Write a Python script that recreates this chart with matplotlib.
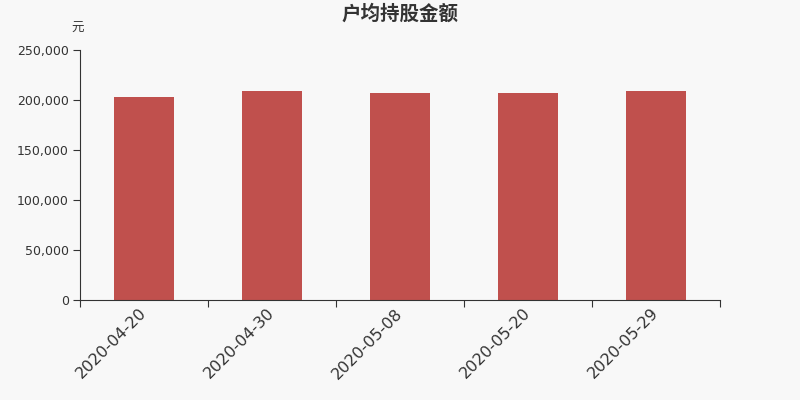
import matplotlib.pyplot as plt
from matplotlib.ticker import FuncFormatter

plt.rcParams['font.family'] = ['DejaVu Sans', 'Noto Sans CJK SC']

# Data
dates = ["2020-04-20", "2020-04-30", "2020-05-08", "2020-05-20", "2020-05-29"]
amounts = [202800, 208700, 207200, 206800, 208900]

bar_color = "#c0504d"
text_color = "#333333"
bg_color = "#f8f8f8"

fig = plt.figure(figsize=(8, 4), dpi=100, facecolor=bg_color)
ax = fig.add_axes([0.1, 0.25, 0.8, 0.625], facecolor=bg_color)

x = list(range(len(dates)))
ax.bar(x, amounts, width=0.47, color=bar_color, zorder=2)

ax.set_xlim(-0.5, len(dates) - 0.5)
ax.set_ylim(0, 250000)
ax.set_yticks([0, 50000, 100000, 150000, 200000, 250000])
ax.yaxis.set_major_formatter(FuncFormatter(lambda v, p: f"{int(v):,}"))

# ticks on category boundaries, labels at centers
ax.set_xticks([i - 0.5 for i in range(len(dates) + 1)])
ax.set_xticklabels([])
ax.set_xticks([i - 0.04 for i in x], minor=True)
ax.set_xticklabels(dates, minor=True, rotation=45, ha="right",
                   rotation_mode="anchor", fontsize=11.5, color=text_color)
ax.tick_params(axis="x", which="minor", length=0, pad=4)
ax.tick_params(axis="x", which="major", length=5, color=text_color)
ax.tick_params(axis="y", length=5, pad=3, labelsize=9, colors=text_color)

for s in ["top", "right"]:
    ax.spines[s].set_visible(False)
ax.spines["left"].set_color(text_color)
ax.spines["bottom"].set_color(text_color)

fig.text(0.5, 0.965, "户均持股金额", ha="center", va="center",
         fontsize=14, fontweight="bold", color=text_color)
fig.text(0.0975, 0.928, "元", ha="center", va="center",
         fontsize=9, color=text_color)

fig.savefig("out.png", facecolor=bg_color)
